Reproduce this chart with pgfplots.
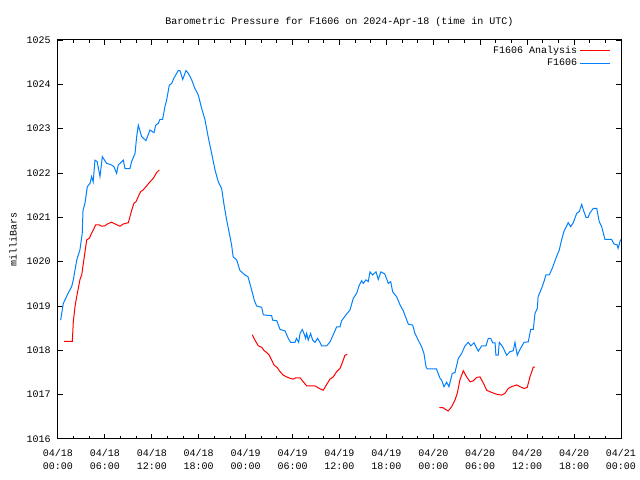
\documentclass[border=0pt]{standalone}
\usepackage{pgfplots}
\pgfplotsset{compat=1.18}
\usepackage{fontspec}
\setmainfont{Liberation Mono}
\definecolor{gpblue}{RGB}{0,128,255}
\definecolor{gpred}{RGB}{255,0,0}
\newcommand{\gpfont}{\fontsize{7.5}{9.75}\selectfont}
\begin{document}
\begin{tikzpicture}
\begin{axis}[
  name=ax,
  scale only axis,
  width=422.25pt, height=299.25pt,
  xmin=0, xmax=72, ymin=1016, ymax=1025,
  xtick={0,6,...,72},
  xticklabels={04/18\\00:00,04/18\\06:00,04/18\\12:00,04/18\\18:00,04/19\\00:00,04/19\\06:00,04/19\\12:00,04/19\\18:00,04/20\\00:00,04/20\\06:00,04/20\\12:00,04/20\\18:00,04/21\\00:00},
  minor x tick num=2,
  ytick={1016,1017,...,1025},
  font=\gpfont,
  xticklabel style={align=center, font=\gpfont, yshift=-4.5pt},
  yticklabel style={font=\gpfont, xshift=-2pt},
  /pgf/number format/.cd, 1000 sep={}, assume math mode=true, /pgfplots/.cd,
  tick align=inside,
  major tick length=3.4pt, minor tick length=2pt,
  tick style={black, line width=0.75pt},
  axis line style={black, line width=0.75pt},
  title={Barometric Pressure for F1606 on 2024-Apr-18 (time in UTC)},
  title style={at={(0.5,1)}, anchor=center, yshift=7.5pt, font=\gpfont},
  legend style={at={(1,1)}, anchor=north east, xshift=-5pt, yshift=-0.5pt, draw=none, fill=none,
    font=\gpfont, row sep=-1.5pt},
  legend cell align=right,
  legend plot pos=right,
  legend image code/.code={\draw[#1] (0pt,0pt) -- (22pt,0pt);},
  unbounded coords=jump,
]
\addplot[gpred, line width=0.75pt] coordinates {
(0.77,1018.20) (1.83,1018.20) (1.96,1018.65) (2.17,1018.98) (2.39,1019.21) (2.6,1019.40)
(2.8,1019.59) (3.03,1019.70) (3.24,1019.96) (3.45,1020.22) (3.67,1020.49) (4.0,1020.53)
(4.3,1020.64) (4.5,1020.71) (4.82,1020.83) (5.28,1020.83) (5.58,1020.80) (6.0,1020.81)
(6.43,1020.86) (6.86,1020.89) (7.3,1020.85) (7.93,1020.80) (8.35,1020.85) (9.0,1020.88)
(9.2,1021.01) (9.42,1021.16) (9.72,1021.32) (9.97,1021.35) (10.27,1021.47) (10.57,1021.58)
(10.9,1021.62) (11.34,1021.71) (11.76,1021.80) (12.19,1021.88) (12.62,1022.01) (12.96,1022.07)
(18,nan)
(24.85,1018.35) (25.19,1018.23) (25.62,1018.10) (26.05,1018.07) (26.38,1017.99) (26.69,1017.95)
(27.02,1017.89) (27.33,1017.78) (27.62,1017.67) (28.04,1017.61) (28.39,1017.52) (28.81,1017.44)
(29.24,1017.40) (29.67,1017.37) (30.09,1017.35) (30.43,1017.38) (30.95,1017.38) (31.37,1017.29)
(31.8,1017.20) (32.86,1017.20) (33.41,1017.14) (33.93,1017.10) (34.36,1017.23) (34.78,1017.35)
(35.2,1017.40) (35.64,1017.52) (36.06,1017.59) (36.4,1017.74) (36.7,1017.89) (37.0,1017.91)
(42,nan)
(48.76,1016.71) (49.19,1016.71) (49.9,1016.63) (50.34,1016.73) (50.77,1016.88) (51.06,1017.03)
(51.4,1017.33) (51.83,1017.54) (52.26,1017.40) (52.7,1017.29) (53.1,1017.31) (53.54,1017.39)
(53.97,1017.40) (54.4,1017.26) (54.82,1017.10) (55.46,1017.05) (56.1,1017.01) (56.74,1016.99)
(57.16,1017.03) (57.58,1017.14) (58.02,1017.18) (58.66,1017.22) (59.08,1017.18) (59.6,1017.14)
(60.0,1017.16) (60.36,1017.40) (60.78,1017.62) (61.0,1017.62)
};
\addlegendentry{F1606 Analysis}
\addplot[gpblue, line width=0.75pt] coordinates {
(0.34,1018.68) (0.68,1019.06) (1.3,1019.29) (1.75,1019.44) (1.96,1019.59) (2.4,1020.04)
(2.8,1020.26) (3.1,1020.64) (3.2,1021.16) (3.45,1021.32) (3.75,1021.69) (4.1,1021.77)
(4.3,1021.92) (4.5,1021.80) (4.73,1022.29) (5.0,1022.26) (5.37,1021.92) (5.67,1022.37)
(6.2,1022.22) (6.86,1022.18) (7.16,1022.14) (7.5,1021.99) (7.7,1022.18) (8.35,1022.29)
(8.57,1022.10) (9.2,1022.10) (9.42,1022.26) (9.85,1022.44) (10.06,1022.82) (10.27,1023.08)
(10.7,1022.82) (11.25,1022.73) (11.76,1022.97) (12.28,1022.91) (12.5,1023.08) (12.83,1023.12)
(13.04,1023.21) (13.38,1023.21) (13.68,1023.50) (13.9,1023.65) (14.23,1023.98) (14.54,1024.02)
(14.83,1024.14) (15.18,1024.25) (15.38,1024.31) (15.6,1024.31) (15.95,1024.11) (16.37,1024.31)
(16.66,1024.25) (17.1,1024.10) (17.5,1023.91) (17.94,1023.76) (18.37,1023.46) (18.8,1023.20)
(19.2,1022.82) (19.65,1022.44) (20.08,1022.07) (20.5,1021.80) (20.93,1021.65) (21.2,1021.32)
(21.56,1020.95) (22.2,1020.38) (22.4,1020.11) (22.85,1020.04) (23.27,1019.80) (23.9,1019.70)
(24.3,1019.66) (24.77,1019.36) (25.1,1019.13) (25.4,1019.00) (26.05,1018.97) (26.26,1018.80)
(27.33,1018.78) (27.45,1018.68) (27.97,1018.67) (28.4,1018.47) (29.03,1018.44) (29.45,1018.27)
(29.75,1018.18) (30.3,1018.18) (30.5,1018.27) (30.78,1018.18) (30.95,1018.38) (31.24,1018.47)
(31.46,1018.38) (31.67,1018.27) (31.8,1018.38) (32.0,1018.23) (32.3,1018.38) (32.57,1018.23)
(32.86,1018.18) (33.2,1018.27) (33.5,1018.18) (33.72,1018.10) (34.36,1018.10) (34.78,1018.19)
(35.2,1018.35) (35.64,1018.53) (36.06,1018.53) (36.28,1018.67) (36.83,1018.80) (37.34,1018.91)
(37.76,1019.17) (38.2,1019.29) (38.53,1019.47) (38.84,1019.57) (39.04,1019.51) (39.39,1019.59)
(39.68,1019.55) (39.9,1019.77) (40.24,1019.70) (40.67,1019.77) (40.96,1019.60) (41.3,1019.77)
(41.8,1019.72) (42.24,1019.51) (42.55,1019.55) (42.8,1019.32) (43.3,1019.21) (43.73,1019.03)
(44.16,1018.89) (44.8,1018.59) (45.36,1018.57) (45.65,1018.38) (46.07,1018.23) (46.5,1018.08)
(46.8,1017.93) (47.06,1017.63) (47.23,1017.58) (48.4,1017.58) (48.85,1017.37) (49.06,1017.33)
(49.36,1017.18) (49.7,1017.28) (50.0,1017.18) (50.42,1017.48) (50.77,1017.50) (51.2,1017.82)
(51.62,1017.93) (52.05,1018.10) (52.47,1018.18) (52.8,1018.10) (53.2,1018.17) (53.75,1017.98)
(54.18,1018.10) (54.73,1018.10) (55.03,1018.27) (55.33,1018.27) (55.6,1018.17) (55.9,1018.17)
(56.0,1017.89) (56.3,1017.89) (56.43,1018.18) (56.87,1018.08) (57.38,1017.89) (57.8,1017.97)
(58.22,1017.99) (58.44,1018.18) (58.73,1017.89) (59.08,1018.02) (59.6,1018.18) (60.14,1018.19)
(60.45,1018.47) (60.78,1018.47) (61.0,1018.83) (61.3,1018.95) (61.4,1019.21) (61.85,1019.40)
(62.15,1019.55) (62.4,1019.70) (62.83,1019.70) (63.26,1019.87) (63.68,1020.08) (64.1,1020.26)
(64.4,1020.49) (64.7,1020.68) (65.25,1020.88) (65.56,1020.79) (65.9,1020.88) (66.33,1021.09)
(66.66,1021.13) (66.97,1021.29) (67.26,1021.13) (67.52,1021.00) (67.8,1021.00) (68.0,1021.09)
(68.45,1021.20) (68.9,1021.20) (69.22,1020.90) (69.53,1020.79) (69.95,1020.50) (70.8,1020.50)
(71.1,1020.40) (71.5,1020.38) (71.63,1020.30) (71.95,1020.50)
};
\addlegendentry{F1606}
\end{axis}
\node[rotate=90, font=\gpfont] at ([xshift=-33.75pt]ax.west) {milliBars};
\pgfresetboundingbox
\path ([xshift=-43.5pt,yshift=-30.75pt]ax.south west) rectangle ([xshift=14.25pt,yshift=30pt]ax.north east);
\end{tikzpicture}
\end{document}
